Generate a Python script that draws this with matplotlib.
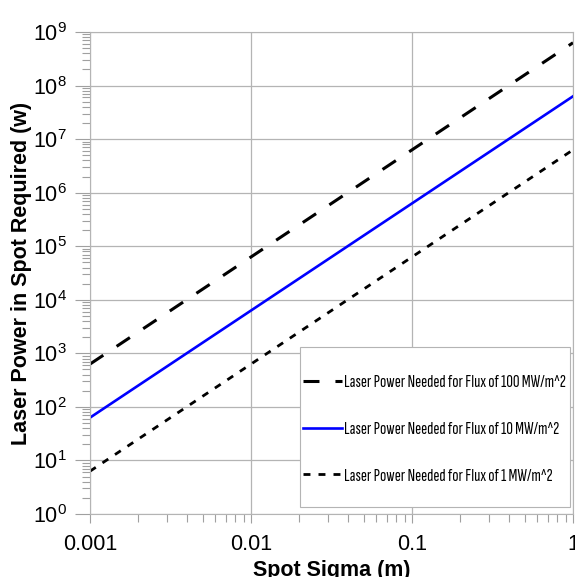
import matplotlib
matplotlib.use('Agg')
import matplotlib.pyplot as plt
from matplotlib import font_manager
from matplotlib.patches import Rectangle

# spot sigma (m) and required power (W), read at the two ends of each line
sigma = [0.001, 1.0]
p_100mw = [630, 6.3e8]
p_10mw = [63, 6.3e7]
p_1mw = [6.3, 6.3e6]
labels = ['Laser Power Needed for Flux of 100 MW/m^2',
          'Laser Power Needed for Flux of 10 MW/m^2',
          'Laser Power Needed for Flux of 1 MW/m^2']
xtick_vals = [0.001, 0.01, 0.1, 1]
xtick_lbls = ['0.001', '0.01', '0.1', '1']

plt.rcParams['font.family'] = ['Liberation Sans', 'DejaVu Sans']
plt.rcParams['lines.scale_dashes'] = False
names = {f.name for f in font_manager.fontManager.ttflist}
narrow = 'Liberation Sans'
for cand in ['Sofia Sans Extra Condensed', 'Saira ExtraCondensed', 'Archivo Narrow', 'Roboto Condensed']:
    if cand in names:
        narrow = cand
        break

fig = plt.figure(figsize=(5.75, 5.77), dpi=100)
ax = fig.add_axes([90 / 575, 63 / 577, 483 / 575, 482 / 577])

ax.plot(sigma, p_100mw, color='black', lw=2.2, dashes=(11.5, 11.5), label=labels[0])
ax.plot(sigma, p_10mw, color='#0000ff', lw=1.9, label=labels[1])
ax.plot(sigma, p_1mw, color='black', lw=2.0, dashes=(5, 5.8), label=labels[2])

ax.set_xscale('log')
ax.set_yscale('log')
ax.set_xlim(0.001, 1)
ax.set_ylim(1, 1e9)
ax.set_xticks(xtick_vals)
ax.set_xticklabels(xtick_lbls)
ax.set_yticks([10.0 ** k for k in range(10)])
ax.grid(True, which='major', color='#b4b4b4', lw=0.9)
for s in ax.spines.values():
    s.set_color('#b4b4b4')
ax.tick_params(which='both', color='#a0a0a0', width=0.8, labelsize=15.5)
ax.tick_params(which='minor', length=5.8)
ax.tick_params(axis='y', which='major', length=10.8, pad=6)
ax.tick_params(axis='x', which='major', length=6.5, pad=8)

ax.set_xlabel('Spot Sigma (m)', fontsize=15.5, fontweight='bold')
ax.set_ylabel('Laser Power in Spot Required (w)', fontsize=15.5, fontweight='bold')
ax.xaxis.set_label_coords(0.5, -0.095)
ax.yaxis.set_label_coords(-0.120, 0.5)

# legend box drawn by hand: narrow side margins, tall top/bottom margins
ax.add_patch(Rectangle((0.4348, 0.0145), 0.559, 0.332, transform=ax.transAxes,
                       facecolor='white', edgecolor='#b4b4b4', lw=0.8, zorder=4.5))
leg = ax.legend(loc='center left', bbox_to_anchor=(0.4410, 0.176), frameon=False,
                handlelength=2.15, handletextpad=0.1, labelspacing=1.68,
                borderpad=0, borderaxespad=0, prop={'family': narrow, 'size': 13.2})
leg.set_zorder(5)

fig.savefig('out.png', dpi=100)
